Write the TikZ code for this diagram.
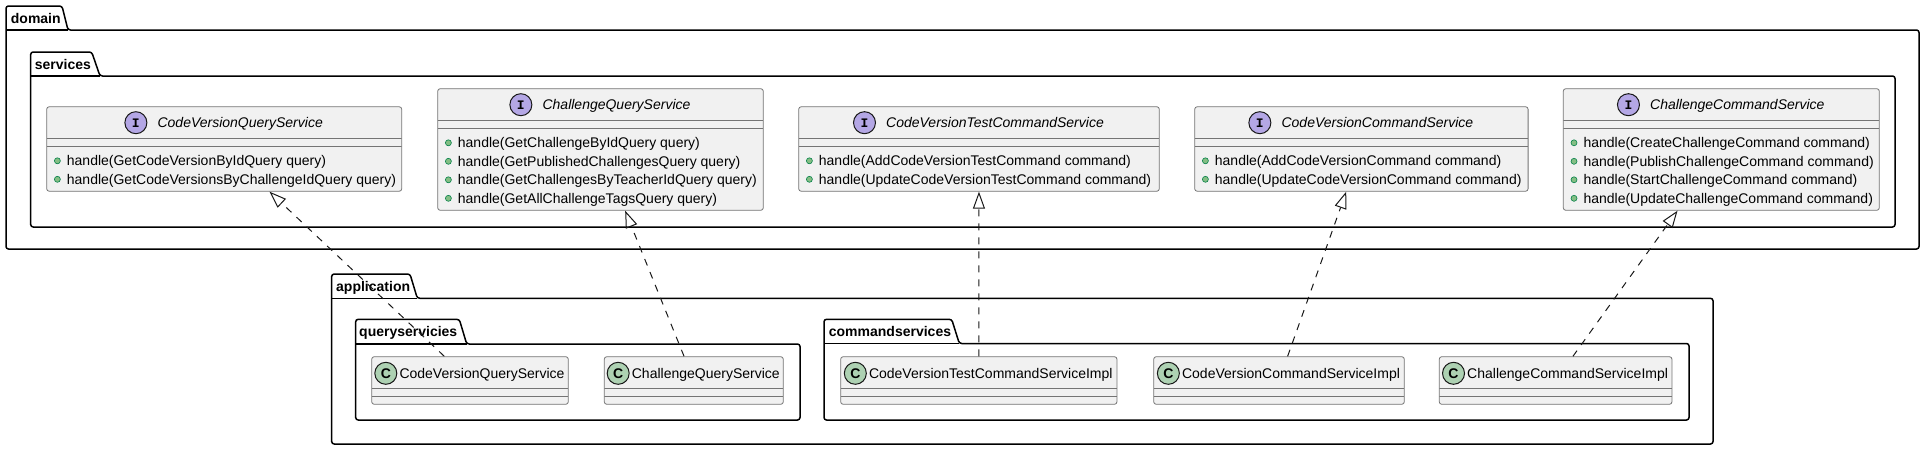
\documentclass[tikz,border=0pt]{standalone}
\usepackage{fontspec}
\setmainfont{Liberation Sans}
\setmonofont{Liberation Mono}
\usepackage{tikz}
\usetikzlibrary{positioning, arrows.meta}
\definecolor{boxbg}{HTML}{F1F1F1}
\definecolor{boxline}{HTML}{181818}
\definecolor{ifacefill}{HTML}{B4A7E5}
\definecolor{classfill}{HTML}{ADD1B2}
\definecolor{dotfill}{HTML}{84BE84}
\definecolor{dotline}{HTML}{038048}
\tikzset{
  pkg/.style={draw=black, line width=1.5pt, rounded corners=2.5pt},
  pkglabel/.style={font=\fontsize{14}{16}\selectfont\bfseries, anchor=west, inner sep=0pt, text height=10pt, text depth=0pt},
  classbox/.style={draw=boxline!60, line width=0.8pt, fill=boxbg, rounded corners=2.5pt, inner sep=0pt,
    path picture={\draw[boxline!60, line width=0.8pt]
      ([yshift=-32pt]path picture bounding box.north west) -- ([yshift=-32pt]path picture bounding box.north east)
      ([yshift=-39.5pt]path picture bounding box.north west) -- ([yshift=-39.5pt]path picture bounding box.north east);}},
  iicon/.style={circle, draw=boxline, line width=1pt, fill=ifacefill, minimum size=22pt, inner sep=0pt, font=\fontsize{13}{13}\selectfont\ttfamily\bfseries, text height=9pt, text depth=0pt},
  cicon/.style={circle, draw=boxline, line width=1pt, fill=classfill, minimum size=22pt, inner sep=0pt, font=\fontsize{14}{14}\selectfont\bfseries, text height=10pt, text depth=0pt},
  ititle/.style={font=\fontsize{14}{16}\selectfont\itshape, inner sep=0pt, text height=10pt, text depth=0pt},
  ctitle/.style={font=\fontsize{14}{16}\selectfont, inner sep=0pt, text height=10pt, text depth=0pt},
  dot/.style={circle, draw=dotline, line width=0.6pt, fill=dotfill, minimum size=6pt, inner sep=0pt, text height=0pt, text depth=0pt, font=\tiny},
  method/.style={font=\fontsize{14}{16}\selectfont, anchor=west, inner sep=0pt, text height=10pt, text depth=0pt, label={[dot, xshift=-6pt]left:{}}},
  realize/.style={draw=boxline, line width=1pt, dash pattern=on 7pt off 7pt, -{Triangle[open, length=17pt, width=12pt]}}
}
\begin{document}
\begin{tikzpicture}[x=1pt, y=-1pt]
\useasboundingbox (0,0) rectangle (1925,450);

\draw[pkg] (6,249) -- (6,6) -- (62,6) -- (68,30) -- (1919,30) -- (1919,249) -- cycle;
\draw[pkg] (6,30) -- (68,30);
\node[pkglabel] (domainLbl) at (10.7,18) {domain};
\draw[pkg] (30.7,227) -- (30.7,52) -- (91.7,52) -- (100,76) -- (1895,76) -- (1895,227) -- cycle;
\draw[pkg] (30.7,76) -- (100,76);
\node[pkglabel] (servicesLbl) at (34.7,64) {services};

\draw[pkg] (331.7,444) -- (331.7,274) -- (410,274) -- (417.3,298.3) -- (1713,298.3) -- (1713,444) -- cycle;
\draw[pkg] (331.7,298.3) -- (417.3,298.3);
\node[pkglabel] (applicationLbl) at (336,286) {application};
\draw[pkg] (355.7,420) -- (355.7,319.3) -- (459.3,319.3) -- (466.7,344) -- (800,344) -- (800,420) -- cycle;
\draw[pkg] (355.7,344) -- (466.7,344);
\node[pkglabel] (queryLbl) at (359,331.5) {queryservicies};
\draw[pkg] (824,420) -- (824,319.3) -- (951.7,319.3) -- (959.3,343.5) -- (1689,343.5) -- (1689,420) -- cycle;
\draw[pkg] (824,343.5) -- (959.3,343.5);
\node[pkglabel] (commandLbl) at (828.7,331.5) {commandservices};

\node[classbox, minimum width=355pt, minimum height=84.5pt] (cvqs) at (224.2,149) {};
\node[ititle] (cvqsName) at (240.2,122.7) {CodeVersionQueryService};
\node[iicon, left=10pt of cvqsName] (cvqsIcon) {I};
\node[method] (cvqsM1) at (66.7,160.8) {handle(GetCodeVersionByIdQuery query)};
\node[method] (cvqsM2) at (66.7,179.3) {handle(GetCodeVersionsByChallengeIdQuery query)};

\node[classbox, minimum width=325.6pt, minimum height=121.6pt] (cqs) at (600.5,149.5) {};
\node[ititle] (cqsName) at (616.5,104.7) {ChallengeQueryService};
\node[iicon, left=10pt of cqsName] (cqsIcon) {I};
\node[method] (cqsM1) at (457.7,142.8) {handle(GetChallengeByIdQuery query)};
\node[method] (cqsM2) at (457.7,161.3) {handle(GetPublishedChallengesQuery query)};
\node[method] (cqsM3) at (457.7,179.8) {handle(GetChallengesByTeacherIdQuery query)};
\node[method] (cqsM4) at (457.7,198.3) {handle(GetAllChallengeTagsQuery query)};

\node[classbox, minimum width=360.6pt, minimum height=84.5pt] (cvtcs) at (979,149) {};
\node[ititle] (cvtcsName) at (995,122.7) {CodeVersionTestCommandService};
\node[iicon, left=10pt of cvtcsName] (cvtcsIcon) {I};
\node[method] (cvtcsM1) at (818.7,160.8) {handle(AddCodeVersionTestCommand command)};
\node[method] (cvtcsM2) at (818.7,179.3) {handle(UpdateCodeVersionTestCommand command)};

\node[classbox, minimum width=333.4pt, minimum height=84.5pt] (cvcs) at (1361.4,149) {};
\node[ititle] (cvcsName) at (1377.4,122.7) {CodeVersionCommandService};
\node[iicon, left=10pt of cvcsName] (cvcsIcon) {I};
\node[method] (cvcsM1) at (1214.7,160.8) {handle(AddCodeVersionCommand command)};
\node[method] (cvcsM2) at (1214.7,179.3) {handle(UpdateCodeVersionCommand command)};

\node[classbox, minimum width=316pt, minimum height=121.6pt] (ccs) at (1721.3,149.5) {};
\node[ititle] (ccsName) at (1737.3,104.7) {ChallengeCommandService};
\node[iicon, left=10pt of ccsName] (ccsIcon) {I};
\node[method] (ccsM1) at (1583.3,142.8) {handle(CreateChallengeCommand command)};
\node[method] (ccsM2) at (1583.3,161.3) {handle(PublishChallengeCommand command)};
\node[method] (ccsM3) at (1583.3,179.8) {handle(StartChallengeCommand command)};
\node[method] (ccsM4) at (1583.3,198.3) {handle(UpdateChallengeCommand command)};

\node[classbox, minimum width=196.6pt, minimum height=47.6pt] (cvqsImpl) at (470,380.5) {};
\node[ctitle] (cvqsImplName) at (482,373.3) {CodeVersionQueryService};
\node[cicon, left=2pt of cvqsImplName] (cvqsImplIcon) {C};
\node[classbox, minimum width=179pt, minimum height=47.6pt] (cqsImpl) at (693.8,380.5) {};
\node[ctitle] (cqsImplName) at (705.8,373.3) {ChallengeQueryService};
\node[cicon, left=2pt of cqsImplName] (cqsImplIcon) {C};
\node[classbox, minimum width=276.3pt, minimum height=47.6pt] (cvtcsImpl) at (978.8,380.5) {};
\node[ctitle] (cvtcsImplName) at (990.8,373.3) {CodeVersionTestCommandServiceImpl};
\node[cicon, left=2pt of cvtcsImplName] (cvtcsImplIcon) {C};
\node[classbox, minimum width=250.6pt, minimum height=47.6pt] (cvcsImpl) at (1279,380.5) {};
\node[ctitle] (cvcsImplName) at (1291,373.3) {CodeVersionCommandServiceImpl};
\node[cicon, left=2pt of cvcsImplName] (cvcsImplIcon) {C};
\node[classbox, minimum width=232.7pt, minimum height=47.6pt] (ccsImpl) at (1555.6,380.5) {};
\node[ctitle] (ccsImplName) at (1567.6,373.3) {ChallengeCommandServiceImpl};
\node[cicon, left=2pt of ccsImplName] (ccsImplIcon) {C};

\draw[realize] (cvqsImpl) -- (cvqs);
\draw[realize] (cqsImpl) -- (cqs);
\draw[realize] (cvtcsImpl) -- (cvtcs);
\draw[realize] (cvcsImpl) -- (cvcs);
\draw[realize] (ccsImpl) -- (ccs);
\end{tikzpicture}
\end{document}
